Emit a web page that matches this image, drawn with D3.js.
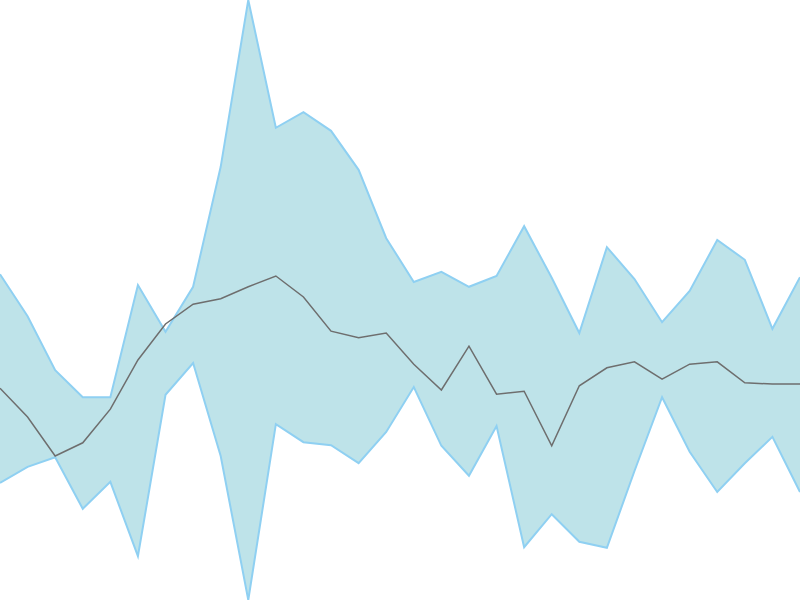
<!DOCTYPE html>
<html>
<head>
<meta charset="utf-8">
<script src="https://cdn.jsdelivr.net/npm/d3@7"></script>
<style>
  html, body { margin: 0; padding: 0; background: #fff; overflow: hidden; }
  svg { display: block; }
</style>
</head>
<body>
<svg id="chart" width="800" height="600"></svg>
<script>
const indexes = d3.range(30);
const upperValues = [54.3, 47.3, 38.3, 33.8, 33.8, 52.5, 44.7, 52.2, 72.2, 100, 78.7, 81.3, 78.2, 71.7, 60.3, 53, 54.7, 52.2, 54, 62.3, 53.7, 44.5, 58.8, 53.5, 46.3, 51.5, 60, 56.7, 45.2, 53.8];
const lowerValues = [19.5, 22.2, 23.8, 15.2, 19.7, 7.3, 34.2, 39.5, 24, 0, 29.3, 26.3, 25.8, 22.8, 28, 35.5, 25.7, 20.7, 29, 8.8, 14.3, 9.7, 8.7, 21.5, 33.8, 24.7, 18, 22.8, 27.2, 18];
const middleValues = [35.3, 30.5, 24, 26.2, 31.8, 40, 46, 49.3, 50.2, 52.2, 54, 50.5, 44.8, 43.7, 44.5, 39.3, 35, 42.3, 34.3, 34.8, 25.7, 35.7, 38.7, 39.7, 36.8, 39.3, 39.7, 36.2, 36, 36];

const width = 800, height = 600;
const data = indexes.map((i) => ({ i, lo: lowerValues[i], hi: upperValues[i], mid: middleValues[i] }));

const x = d3.scaleLinear().domain(d3.extent(indexes)).range([0, width]);
const y = d3.scaleLinear()
  .domain([d3.min(lowerValues), d3.max(upperValues)])
  .range([height, 0]);

const svg = d3.select("#chart");

svg.append("path")
  .datum(data)
  .attr("fill", "#bee3e9")
  .attr("stroke", "none")
  .attr("d", d3.area().x(d => x(d.i)).y0(d => y(d.lo)).y1(d => y(d.hi)));

const bandLine = (key) => d3.line().x(d => x(d.i)).y(d => y(d[key]));

svg.append("path").datum(data)
  .attr("fill", "none").attr("stroke", "#8fd0f2").attr("stroke-width", 2)
  .attr("d", bandLine("hi"));
svg.append("path").datum(data)
  .attr("fill", "none").attr("stroke", "#8fd0f2").attr("stroke-width", 2)
  .attr("d", bandLine("lo"));

svg.append("path").datum(data)
  .attr("fill", "none").attr("stroke", "#6e6e6e").attr("stroke-width", 1.5)
  .attr("d", bandLine("mid"));
</script>
</body>
</html>
